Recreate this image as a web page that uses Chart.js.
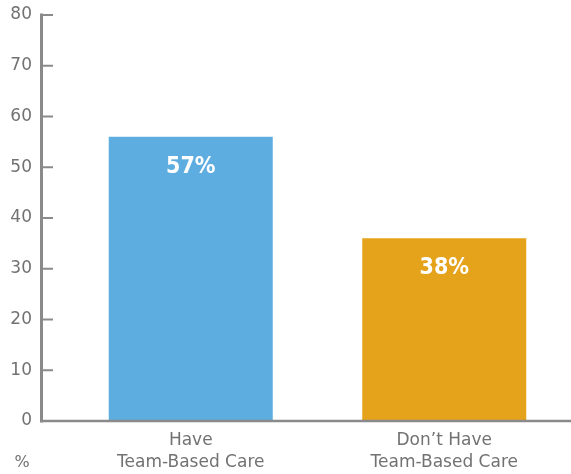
<!DOCTYPE html>
<html lang="en">
<head>
  <meta charset="UTF-8">
  <title>Team-Based Care</title>
  <script src="https://cdn.jsdelivr.net/npm/chart.js"></script>
  <style>
    body { margin: 0; background: #fff; }
    #chartContainer { width: 571px; height: 474px; }
  </style>
</head>
<body>
  <div id="chartContainer">
    <canvas id="careChart"></canvas>
  </div>

  <script>
    const categories = [["Have", "Team-Based Care"], ["Don\u2019t Have", "Team-Based Care"]];
    const values = [56, 36];
    const valueLabels = ["57%", "38%"];
    const barColors = ["#5eade0", "#e5a31c"];
    const yMin = 0, yMax = 80, yStep = 10;
    const unitLabel = "%";

    const axisColor = "#8a8a8b";
    const textColor = "#727272";
    const fontFamily = "'DejaVu Sans', sans-serif";

    // axis lines, tick marks, value labels, unit
    const decorations = {
      id: 'decorations',
      afterDatasetsDraw(chart) {
        const ctx = chart.ctx;
        const y = chart.scales.y;
        const area = chart.chartArea;
        const axisX = 41.5;
        ctx.save();
        ctx.strokeStyle = axisColor;
        ctx.lineWidth = 3;
        ctx.beginPath();
        ctx.moveTo(axisX, y.getPixelForValue(yMax) - 1.5);
        ctx.lineTo(axisX, y.getPixelForValue(yMin) + 1.5);
        ctx.stroke();
        ctx.lineWidth = 2.5;
        ctx.beginPath();
        ctx.moveTo(axisX, area.bottom);
        ctx.lineTo(chart.width, area.bottom);
        ctx.stroke();
        ctx.lineWidth = 2;
        for (let v = yMin; v <= yMax; v += yStep) {
          const py = y.getPixelForValue(v);
          ctx.beginPath();
          ctx.moveTo(axisX, py);
          ctx.lineTo(53, py);
          ctx.stroke();
        }

        ctx.fillStyle = '#ffffff';
        ctx.font = "bold 23px 'DejaVu Sans Condensed', 'DejaVu Sans', sans-serif";
        ctx.textAlign = 'center';
        ctx.textBaseline = 'middle';
        chart.getDatasetMeta(0).data.forEach((bar, i) => {
          ctx.fillText(valueLabels[i], bar.x, bar.y + 30);
        });

        ctx.fillStyle = textColor;
        ctx.font = "16px " + fontFamily;
        ctx.textAlign = 'center';
        ctx.fillText(unitLabel, 22, 463);
        ctx.restore();
      }
    };

    new Chart(document.getElementById('careChart'), {
      type: 'bar',
      data: {
        labels: categories,
        datasets: [{
          data: values,
          backgroundColor: barColors,
          borderWidth: 0,
          categoryPercentage: 1,
          barPercentage: 0.647
        }]
      },
      options: {
        responsive: true,
        maintainAspectRatio: false,
        animation: false,
        layout: { padding: { top: 15, right: 0, bottom: 0, left: 0 } },
        plugins: {
          legend: { display: false },
          tooltip: { enabled: false }
        },
        scales: {
          x: {
            grid: { display: false, drawTicks: false },
            border: { display: false },
            ticks: {
              color: textColor,
              font: { family: fontFamily, size: 17, lineHeight: 1.33 },
              padding: 8,
              maxRotation: 0
            },
            afterFit(scale) {
              scale.height = 53;
              scale.paddingLeft = 0;
              scale.paddingRight = 0;
            }
          },
          y: {
            min: yMin,
            max: yMax,
            grid: { display: false, drawTicks: false },
            border: { display: false },
            ticks: {
              stepSize: yStep,
              color: textColor,
              font: { family: fontFamily, size: 17 },
              padding: 32
            },
            afterFit(scale) {
              scale.width = 64;
              scale.paddingTop = 0;
              scale.paddingBottom = 0;
            }
          }
        }
      },
      plugins: [decorations]
    });
  </script>
</body>
</html>
